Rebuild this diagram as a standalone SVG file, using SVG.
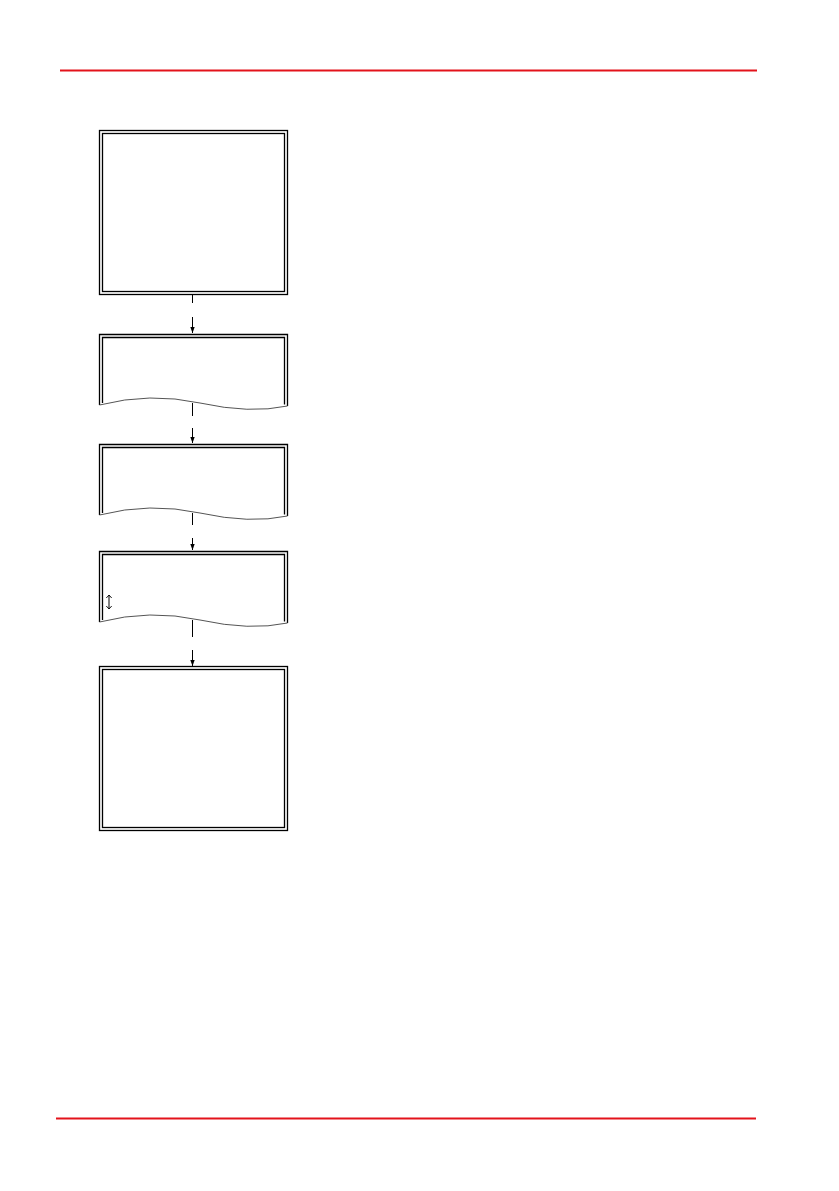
<svg xmlns="http://www.w3.org/2000/svg" width="839" height="1191" viewBox="0 0 839 1191">
<style>
.rule{stroke:#e3131b;stroke-width:2.2;fill:none}
.frame{fill:none;stroke:#000;stroke-width:1.3}
.wave{fill:none;stroke:#555;stroke-width:1}
.conn{fill:none;stroke:#000;stroke-width:1}
</style>
<defs>
<marker id="ah" markerUnits="userSpaceOnUse" markerWidth="6" markerHeight="8" refX="6" refY="3" orient="auto">
<path d="M0,0.8 L6,3 L0,5.2 z" fill="#000"/>
</marker>
<marker id="oh" markerUnits="userSpaceOnUse" markerWidth="6" markerHeight="8" refX="3.5" refY="3" orient="auto-start-reverse">
<path d="M0.5,0.3 L3.5,3 L0.5,5.7" fill="none" stroke="#000" stroke-width="0.9"/>
</marker>
<g id="doc">
<path class="frame" d="M99.5,405 V334.5 H287.5 V406"/>
<path class="frame" d="M102.5,403 V337.5 H284.5 V404.5"/>
<path class="wave" d="M99.5,405 Q150,392 200,403 T287.5,406"/>
</g>
</defs>
<line class="rule" x1="60" y1="70.5" x2="757" y2="70.5"/>
<line class="rule" x1="56" y1="1118.5" x2="756" y2="1118.5"/>
<g id="node1">
<rect class="frame" x="99.5" y="130.5" width="188" height="164"/>
<rect class="frame" x="102.5" y="133.5" width="182" height="158"/>
</g>
<g id="node2"><use href="#doc"/></g>
<g id="node3"><use href="#doc" transform="translate(0,110)"/></g>
<g id="node4"><use href="#doc" transform="translate(0,217)"/>
<path class="conn" d="M109,595 V609" marker-start="url(#oh)" marker-end="url(#oh)"/>
</g>
<g id="node5">
<rect class="frame" x="99.5" y="666.5" width="188" height="164"/>
<rect class="frame" x="102.5" y="669.5" width="182" height="158"/>
</g>
<g id="connectors">
<line class="conn" x1="192.5" y1="295" x2="192.5" y2="303"/>
<line class="conn" x1="192.5" y1="317" x2="192.5" y2="333" marker-end="url(#ah)"/>
<line class="conn" x1="192.5" y1="403" x2="192.5" y2="416"/>
<line class="conn" x1="192.5" y1="428" x2="192.5" y2="443" marker-end="url(#ah)"/>
<line class="conn" x1="192.5" y1="513" x2="192.5" y2="525"/>
<line class="conn" x1="192.5" y1="538" x2="192.5" y2="550" marker-end="url(#ah)"/>
<line class="conn" x1="192.5" y1="620" x2="192.5" y2="637"/>
<line class="conn" x1="192.5" y1="650" x2="192.5" y2="666" marker-end="url(#ah)"/>
</g>
</svg>
